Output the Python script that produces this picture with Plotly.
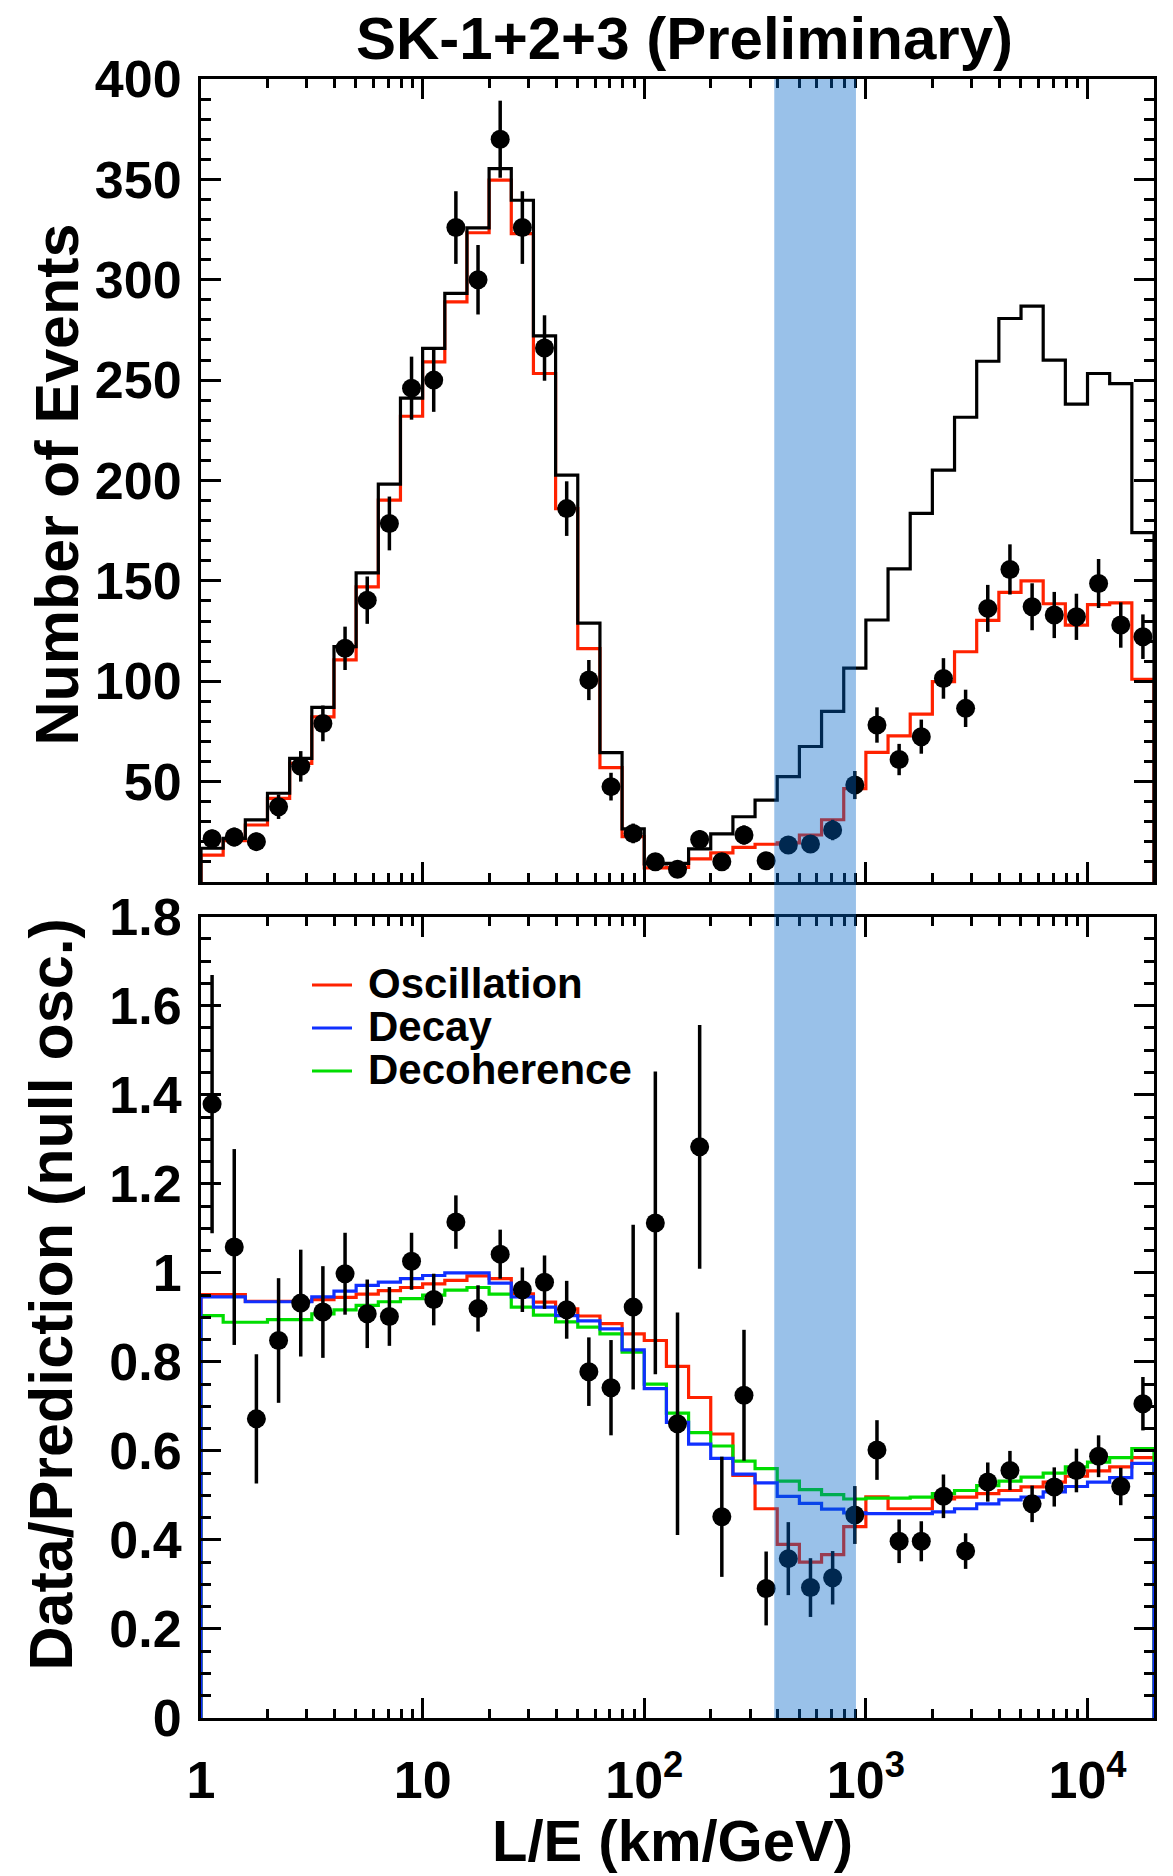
import numpy as np
import plotly.graph_objects as go

# ---------------- data ----------------
LE_edges = [1.0, 1.259, 1.585, 1.995, 2.512, 3.162, 3.981, 5.012, 6.310, 7.943,
            10.0, 12.59, 15.85, 19.95, 25.12, 31.62, 39.81, 50.12, 63.10, 79.43,
            100.0, 125.9, 158.5, 199.5, 251.2, 316.2, 398.1, 501.2, 631.0, 794.3,
            1000.0, 1259.0, 1585.0, 1995.0, 2512.0, 3162.0, 3981.0, 5012.0, 6310.0, 7943.0,
            10000.0, 12589.0, 15849.0, 19953.0]

null_osc = [16.8, 21.7, 30.9, 44.2, 61.6, 87.0, 117.2, 154.0, 198.2, 241.0,
            265.8, 293.2, 325.8, 355.4, 339.6, 272.0, 202.7, 129.0, 64.4, 26.5,
            9.0, 9.3, 16.5, 24.0, 32.5, 40.8, 52.5, 67.5, 85.0, 106.5,
            130.5, 156.0, 183.6, 205.2, 231.5, 259.4, 280.7, 286.9, 260.0, 238.0,
            253.3, 248.3, 174.0]

osc_pred = [13.4, 20.6, 28.4, 41.7, 59.1, 82.3, 110.6, 147.0, 190.2, 232.0,
            259.1, 289.0, 323.4, 349.6, 323.0, 253.3, 186.0, 116.3, 57.0, 22.6,
            7.0, 7.3, 11.5, 14.5, 17.2, 18.8, 19.5, 23.4, 31.0, 46.5,
            64.6, 72.8, 83.6, 99.8, 114.7, 130.3, 144.3, 150.0, 138.6, 128.0,
            138.2, 139.0, 101.0]

data_counts = [21.5, 22.4, 20.1, 37.5, 57.6, 79.0, 116.4, 140.4, 178.6, 246.0,
               250.0, 326.0, 300.0, 370.0, 326.0, 266.0, 186.0, 100.6, 47.5, 24.2,
               10.1, 6.3, 21.2, 10.1, 23.4, 10.6, 18.4, 18.9, 25.9, 48.3,
               78.2, 61.0, 72.4, 101.4, 86.5, 136.3, 155.7, 137.1, 133.0, 132.1,
               148.7, 128.0, 122.2]

data_err = [4.6, 4.7, 4.5, 6.1, 7.6, 8.9, 10.8, 11.8, 13.4, 15.7,
            15.8, 18.1, 17.3, 19.2, 18.1, 16.3, 13.6, 10.0, 6.9, 4.9,
            3.2, 2.5, 4.6, 3.2, 4.8, 3.3, 4.3, 4.3, 5.1, 7.0,
            8.8, 7.8, 8.5, 10.1, 9.3, 11.7, 12.5, 11.7, 11.5, 11.5,
            12.2, 11.3, 11.1]

ratio_data = [1.379, 1.058, 0.672, 0.848, 0.932, 0.912, 0.998, 0.908, 0.902, 1.026,
              0.940, 1.114, 0.920, 1.042, 0.962, 0.979, 0.917, 0.778, 0.742, 0.923,
              1.112, 0.661, 1.283, 0.452, 0.725, 0.291, 0.358, 0.293, 0.315, 0.456,
              0.602, 0.397, 0.397, 0.498, 0.375, 0.530, 0.556, 0.481, 0.519, 0.556,
              0.588, 0.520, 0.706]

ratio_err = [0.29, 0.22, 0.145, 0.14, 0.12, 0.103, 0.092, 0.077, 0.066, 0.064,
             0.058, 0.06, 0.052, 0.055, 0.05, 0.06, 0.065, 0.077, 0.107, 0.185,
             0.34, 0.25, 0.274, 0.135, 0.147, 0.083, 0.082, 0.066, 0.06, 0.065,
             0.067, 0.049, 0.045, 0.049, 0.04, 0.044, 0.044, 0.041, 0.044, 0.049,
             0.047, 0.042, 0.06]

ratio_osc = [0.951, 0.951, 0.936, 0.936, 0.936, 0.940, 0.945, 0.952, 0.960, 0.967,
             0.975, 0.983, 0.993, 0.987, 0.953, 0.934, 0.919, 0.903, 0.886, 0.863,
             0.848, 0.790, 0.720, 0.638, 0.545, 0.470, 0.390, 0.350, 0.367, 0.430,
             0.497, 0.470, 0.470, 0.492, 0.496, 0.504, 0.511, 0.519, 0.530, 0.543,
             0.555, 0.564, 0.585]

ratio_decay = [0.946, 0.946, 0.935, 0.935, 0.935, 0.946, 0.959, 0.972, 0.979, 0.987,
               0.994, 1.000, 1.000, 0.977, 0.946, 0.923, 0.904, 0.892, 0.874, 0.827,
               0.740, 0.664, 0.615, 0.583, 0.548, 0.528, 0.498, 0.482, 0.469, 0.461,
               0.459, 0.459, 0.459, 0.463, 0.470, 0.481, 0.490, 0.496, 0.508, 0.520,
               0.530, 0.540, 0.572]

ratio_decoh = [0.904, 0.889, 0.889, 0.895, 0.895, 0.908, 0.917, 0.927, 0.935, 0.942,
               0.950, 0.961, 0.967, 0.952, 0.923, 0.905, 0.890, 0.878, 0.863, 0.822,
               0.750, 0.685, 0.641, 0.611, 0.577, 0.560, 0.532, 0.513, 0.502, 0.492,
               0.494, 0.494, 0.496, 0.504, 0.511, 0.522, 0.532, 0.541, 0.550, 0.564,
               0.575, 0.585, 0.605]

band_LE = [386.0, 902.0]   # shaded L/E region

x_major_vals = [1, 10, 100, 1000, 10000]
x_major_text = ["1", "10", "10<sup>2</sup>", "10<sup>3</sup>", "10<sup>4</sup>"]
x_minor_mult = [2, 3, 4, 5, 6, 7, 8, 9]
top_y_vals = [50, 100, 150, 200, 250, 300, 350, 400]
top_y_text = ["50", "100", "150", "200", "250", "300", "350", "400"]
bot_y_vals = [0, 0.2, 0.4, 0.6, 0.8, 1.0, 1.2, 1.4, 1.6, 1.8]
bot_y_text = ["0", "0.2", "0.4", "0.6", "0.8", "1", "1.2", "1.4", "1.6", "1.8"]

title_text = "SK-1+2+3 (Preliminary)"
top_ytitle = "Number of Events"
bot_ytitle = "Data/Prediction (null osc.)"
xtitle = "L/E (km/GeV)"
legend_labels = ["Oscillation", "Decay", "Decoherence"]

# ---------------- styling ----------------
RED, BLUE, GREEN = "#ff2200", "#1030ff", "#00dd00"
legend_colors = [RED, BLUE, GREEN]
FONT = "Liberation Sans"

W, H = 1173, 1876
ML, MR, MT, MB = 201, 19, 79, 158
PW, PH = W - ML - MR, H - MT - MB


def pxx(px):
    return (px - ML) / PW


def pxy(py):
    return (H - MB - py) / PH


centers = [float(np.sqrt(LE_edges[i] * LE_edges[i + 1])) for i in range(len(LE_edges) - 1)]


def step_xy(vals):
    xs = [LE_edges[0]] + LE_edges[:-1] + [LE_edges[-1], LE_edges[-1]]
    ys = [0] + list(vals) + [vals[-1], 0]
    return xs, ys


fig = go.Figure()

# ---- top panel ----
for vals, col in [(osc_pred, RED), (null_osc, "black")]:
    xs, ys = step_xy(vals)
    fig.add_trace(go.Scatter(x=xs, y=ys, mode="lines", line=dict(color=col, width=3.2, shape="hv"),
                             xaxis="x2", yaxis="y2", showlegend=False))
fig.add_trace(go.Scatter(x=centers, y=data_counts, mode="markers",
                         marker=dict(color="black", size=19, symbol="circle"),
                         error_y=dict(type="data", array=data_err, color="black", thickness=3.5, width=0),
                         xaxis="x2", yaxis="y2", showlegend=False))

# ---- bottom panel ----
for vals, col in [(ratio_osc, RED), (ratio_decoh, GREEN), (ratio_decay, BLUE)]:
    xs, ys = step_xy(vals)
    fig.add_trace(go.Scatter(x=xs, y=ys, mode="lines", line=dict(color=col, width=3.2, shape="hv"),
                             xaxis="x", yaxis="y", showlegend=False))
fig.add_trace(go.Scatter(x=centers, y=ratio_data, mode="markers",
                         marker=dict(color="black", size=19, symbol="circle"),
                         error_y=dict(type="data", array=ratio_err, color="black", thickness=3.5, width=0),
                         xaxis="x", yaxis="y", showlegend=False))

tickfont = dict(family=FONT, size=52, color="black", weight="bold")
x_minor_vals = [m * d for d in x_major_vals for m in x_minor_mult]

common_x = dict(type="log", range=[0, 4.3], showline=True, linewidth=3, linecolor="black",
                mirror="allticks", ticks="inside", ticklen=20, tickwidth=2.5, tickcolor="black",
                tickmode="array", tickvals=x_major_vals, showgrid=False, zeroline=False,
                minor=dict(tickmode="array", tickvals=x_minor_vals, ticks="inside", ticklen=9,
                           tickwidth=2.5, tickcolor="black", showgrid=False),
                tickfont=tickfont)
common_y = dict(showline=True, linewidth=3, linecolor="black", mirror="allticks", ticks="inside",
                ticklen=20, tickwidth=2.5, tickcolor="black", tickmode="array", showgrid=False,
                zeroline=False, tickfont=tickfont, ticklabelstandoff=6)

top_bottom = pxy(882)
bot_top = pxy(916.7)

fig.update_layout(
    width=W, height=H, margin=dict(l=ML, r=MR, t=MT, b=MB),
    paper_bgcolor="white", plot_bgcolor="white", showlegend=False,
    xaxis=dict(common_x, anchor="y", domain=[0, 1], ticktext=x_major_text, ticklabelstandoff=15),
    xaxis2=dict(common_x, anchor="y2", domain=[0, 1], matches="x", showticklabels=False),
    yaxis=dict(common_y, anchor="x", domain=[0, bot_top], range=[0, 1.8],
               tickvals=bot_y_vals, ticktext=bot_y_text,
               minor=dict(tick0=0, dtick=0.05, ticks="inside", ticklen=10, tickwidth=2.5,
                          tickcolor="black", showgrid=False)),
    yaxis2=dict(common_y, anchor="x2", domain=[top_bottom, 1], range=[0, 400],
                tickvals=top_y_vals, ticktext=top_y_text,
                minor=dict(tick0=0, dtick=10, ticks="inside", ticklen=10, tickwidth=2.5,
                           tickcolor="black", showgrid=False)),
    title=dict(text=title_text, x=684.5 / W, xref="container", xanchor="center",
               y=1 - 38 / H, yref="container", yanchor="middle",
               font=dict(family=FONT, size=60, color="black", weight="bold")),
)

# shaded band across both panels (drawn above, semi-transparent)
fig.add_shape(type="rect", xref="x", yref="paper", x0=band_LE[0], x1=band_LE[1], y0=0, y1=1,
              fillcolor="rgba(0,100,200,0.4)", line=dict(width=0), layer="above")

fig.add_annotation(text=top_ytitle, textangle=-90, xref="paper", yref="paper",
                   x=pxx(56), y=pxy(484.5), xanchor="center", yanchor="middle",
                   showarrow=False, font=dict(family=FONT, size=61, color="black", weight="bold"))
fig.add_annotation(text=bot_ytitle, textangle=-90, xref="paper", yref="paper",
                   x=pxx(50), y=pxy(1294.5), xanchor="center", yanchor="middle",
                   showarrow=False, font=dict(family=FONT, size=61, color="black", weight="bold"))
fig.add_annotation(text=xtitle, xref="paper", yref="paper",
                   x=pxx(672), y=pxy(1840.5), xanchor="center", yanchor="middle",
                   showarrow=False, font=dict(family=FONT, size=58, color="black", weight="bold"))

# legend (inside bottom panel)
leg_rows = [985.0, 1028.0, 1071.0]
for lab, col, ry in zip(legend_labels, legend_colors, leg_rows):
    fig.add_shape(type="line", xref="paper", yref="paper", x0=pxx(312), x1=pxx(352),
                  y0=pxy(ry), y1=pxy(ry), line=dict(color=col, width=3))
    fig.add_annotation(text=lab, xref="paper", yref="paper", x=pxx(366), y=pxy(ry - 2),
                       xanchor="left", yanchor="middle", showarrow=False,
                       font=dict(family=FONT, size=42, color="black", weight="bold"))

fig.write_html("out.html")
